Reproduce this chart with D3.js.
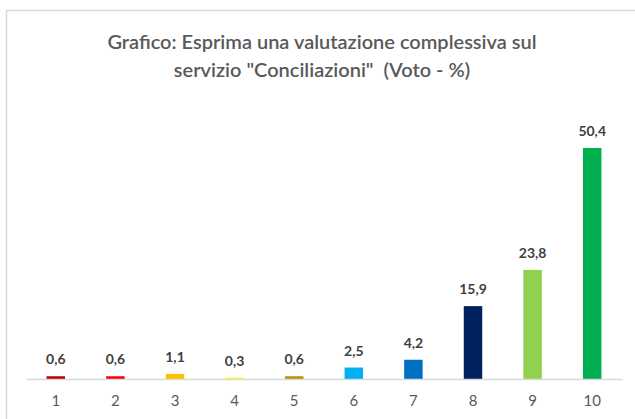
<!DOCTYPE html>
<html>
<head>
<meta charset="utf-8">
<script src="https://cdn.jsdelivr.net/npm/d3@7"></script>
<style>
  body { margin: 0; background: #fff; }
  svg { display: block; font-family: Lato, "Open Sans", sans-serif; }
</style>
</head>
<body>
<div id="chart"></div>
<script>
// data
const categories = ["1", "2", "3", "4", "5", "6", "7", "8", "9", "10"];
const values = [0.6, 0.6, 1.1, 0.3, 0.6, 2.5, 4.2, 15.9, 23.8, 50.4];
const barColors = ["#C00000", "#FF0000", "#FFC000", "#FFFF00", "#BF9000",
                   "#00B0F0", "#0070C0", "#002060", "#92D050", "#00B050"];
const titleLines = ["Grafico: Esprima una valutazione complessiva sul",
                    "servizio \"Conciliazioni\"  (Voto - %)"];

const width = 635, height = 419;
const svg = d3.select("#chart").append("svg")
  .attr("width", width)
  .attr("height", height);

// chart frame (top + left edges visible)
svg.append("path")
  .attr("d", "M6.5," + height + "V10.5H" + width)
  .attr("fill", "none")
  .attr("stroke", "#d9d9d9")
  .attr("stroke-width", 1.5);

// title
svg.append("g").selectAll("text")
  .data(titleLines)
  .enter()
  .append("text")
  .attr("x", 322)
  .attr("y", function (d, i) { return 49 + i * 28; })
  .attr("text-anchor", "middle")
  .attr("font-size", 20)
  .attr("font-weight", 600)
  .attr("fill", "#595959")
  .style("white-space", "pre")
  .text(function (d) { return d; });

const x = d3.scaleBand()
  .domain(categories)
  .range([26, 622])
  .paddingInner(0.69)
  .paddingOuter(0.345);

const y = d3.scaleLinear()
  .domain([0, 50.4])
  .range([379, 148]);

const data = categories.map(function (c, i) { return { cat: c, val: values[i], color: barColors[i] }; });

svg.selectAll("rect.bar")
  .data(data)
  .enter()
  .append("rect")
  .attr("class", "bar")
  .attr("x", function (d) { return x(d.cat); })
  .attr("width", x.bandwidth())
  .attr("y", function (d) { return y(d.val); })
  .attr("height", function (d) { return y(0) - y(d.val); })
  .attr("fill", function (d) { return d.color; });

// value labels
const fmt = d3.format(".1f");
svg.selectAll("text.val")
  .data(data)
  .enter()
  .append("text")
  .attr("class", "val")
  .attr("x", function (d) { return x(d.cat) + x.bandwidth() / 2; })
  .attr("y", function (d) { return y(d.val) - 12; })
  .attr("text-anchor", "middle")
  .attr("font-size", 14)
  .attr("font-weight", 700)
  .attr("fill", "#404040")
  .text(function (d) { return fmt(d.val).replace(".", ","); });

// x axis
const xAxis = svg.append("g")
  .attr("transform", "translate(0,379)")
  .call(d3.axisBottom(x).tickSize(0).tickPadding(16));
xAxis.select(".domain").attr("stroke", "#d9d9d9").attr("stroke-width", 1.5);
xAxis.selectAll("text")
  .attr("font-family", "Lato, 'Open Sans', sans-serif")
  .attr("font-size", 15)
  .attr("fill", "#595959");
</script>
</body>
</html>
